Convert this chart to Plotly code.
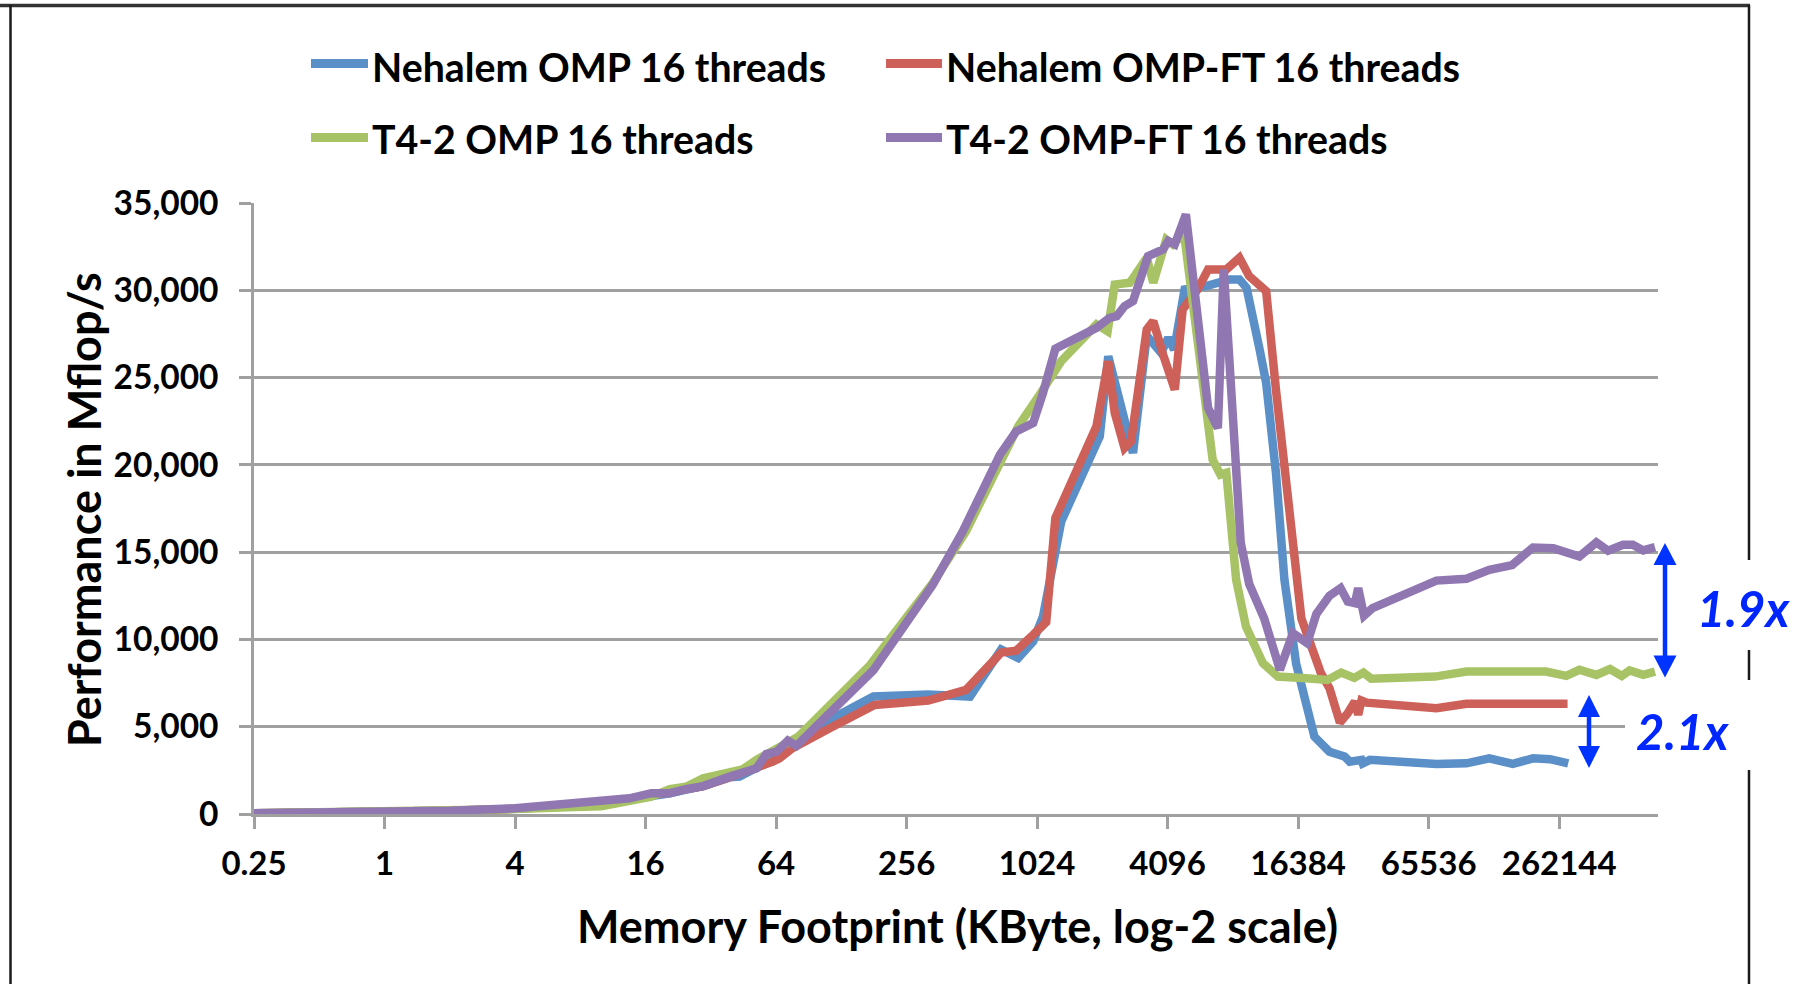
import plotly.graph_objects as go

# ---------------- data (memory footprint in KByte, performance in Mflop/s) ----------------
nehalem_omp_kb = [0.25, 0.5, 1, 2, 4, 7.5, 13.5, 17, 20.7, 24.6, 29.5, 39.1, 43.4, 52, 61.8, 66.3, 76.1,
                  109, 180, 322, 502, 699, 838, 982, 1090, 1323, 1992, 2180, 2836, 3281, 3822, 4124,
                  4390, 4905, 6165, 7912, 8780, 9476, 10885, 11665, 12943, 14163, 16044, 17560, 19473,
                  22849, 26800, 28330, 32094, 32540, 35115, 71170, 97900, 124800, 160100, 198600,
                  237800, 288600]
nehalem_omp = [40, 70, 120, 180, 300, 500, 850, 1000, 1190, 1400, 1600, 2100, 2140, 2650, 3100, 3250, 3800,
               5290, 6730, 6850, 6730, 9420, 8930, 9880, 11310, 16760, 21630, 26220, 20680, 27400, 26420, 27280,
               26600, 30050, 30240, 30620, 30620, 30140, 26600, 24700, 19540, 13420, 8600, 6540, 4430,
               3570, 3290, 3000, 3100, 2900, 3100, 2870, 2900, 3190, 2870, 3190,
               3140, 2900]

nehalem_ft_kb = [0.25, 0.5, 1, 2, 4, 7.5, 13.5, 17, 20.7, 24.6, 29.5, 39.1, 44.9, 52, 61.8, 66.3, 76.1,
                 113, 182, 322, 419, 481, 699, 820, 982, 1128, 1243, 1924, 2180, 2336, 2592, 2778, 3281,
                 3517, 3902, 4420, 4804, 5634, 6294, 7643, 8780, 9742, 11665, 12943, 16958, 19072, 20870,
                 22849, 25530, 27742, 29943, 31000, 32094, 33920, 71170, 97900, 286600]
nehalem_ft = [40, 70, 120, 180, 300, 500, 850, 1100, 1190, 1400, 1600, 2100, 2350, 2650, 3000, 3190, 3770,
              4910, 6250, 6500, 6920, 7110, 9250, 9360, 10260, 11000, 16950, 22210, 25940, 22980, 20970, 21350, 27750,
              28230, 26320, 24310, 28900, 30050, 31190, 31190, 31860, 30810, 29950, 24300, 11200, 9210, 8070,
              7210, 5240, 5770, 6440, 5680, 6500, 6380, 6060, 6310, 6310]

t42_omp_kb = [0.25, 0.5, 1, 2, 4, 7.5, 10, 13.5, 17, 20.7, 24.6, 29.5, 39.1, 44.9, 52, 60.1, 71.5, 81,
              174, 246, 338, 481, 690, 838, 1038, 1323, 1924, 2165, 2336, 2740, 3281, 3517, 4039, 4329,
              4871, 6382, 6607, 7181, 7643, 8480, 9410, 11268, 13215, 17797, 22368, 25887, 29735, 32768,
              35605, 70200, 97900, 160100, 228100, 282600, 324900, 389000, 449900, 509400, 553600,
              640300, 725300]
t42_omp = [40, 70, 120, 170, 280, 400, 450, 760, 990, 1420, 1560, 2050, 2420, 2560, 3100, 3570, 4050, 4430,
           8540, 10930, 13230, 16190, 20200, 22210, 23900, 25940, 28040, 27650, 30330, 30430, 31860, 30430, 32910, 32630,
           33300, 21350, 20300, 19440, 19540, 13420, 10740, 8640, 7870, 7780, 7680, 8100, 7800, 8100,
           7750, 7870, 8160, 8160, 8160, 7910, 8260, 7970, 8300, 7910, 8220,
           7970, 8160]

t42_ft_kb = [0.25, 0.5, 1, 2, 4, 7.5, 13.5, 17, 20.7, 24.6, 29.5, 39.1, 44.9, 52, 57.7, 64.4, 72.5, 79.3,
             180, 246, 338, 465, 690, 820, 982, 1090, 1243, 1924, 2210, 2385, 2592, 2836, 3327, 3902, 4124,
             4420, 4973, 6294, 6984, 7434, 8902, 9742, 11425, 13492, 15498, 18042, 19882, 22849, 25705,
             27742, 29943, 31000, 32996, 36100, 71170, 97900, 124800, 159000, 198600, 246200, 324900,
             389000, 440700, 516500, 573100, 640300, 725300]
t42_ft = [40, 70, 120, 180, 330, 600, 900, 1190, 1190, 1420, 1600, 2140, 2420, 2620, 3440, 3570, 4200, 3900,
          8240, 10650, 13130, 16190, 20590, 21920, 22400, 24120, 26650, 27850, 28420, 28520, 29090, 29380, 31960, 32340, 32820,
          32630, 34350, 23260, 22100, 31190, 15550, 13180, 11200, 8260, 10360, 9790, 11460, 12500, 12940,
          12170, 12080, 12940, 11360, 11790, 13370, 13480, 13990, 14260, 15270, 15230, 14750,
          15560, 15080, 15420, 15420, 15100, 15290]

series_names = ["Nehalem OMP 16 threads", "Nehalem OMP-FT 16 threads",
                "T4-2 OMP 16 threads", "T4-2 OMP-FT 16 threads"]
series_colors = ["#5A8FC8", "#CD6058", "#A8C366", "#9177B2"]

x_tick_vals = [0.25, 1, 4, 16, 64, 256, 1024, 4096, 16384, 65536, 262144]
x_tick_text = ["0.25", "1", "4", "16", "64", "256", "1024", "4096", "16384", "65536", "262144"]
y_tick_vals = [0, 5000, 10000, 15000, 20000, 25000, 30000, 35000]

ratio_labels = ["1.9x", "2.1x"]

# ---------------- layout geometry ----------------
W, H = 1807, 984
L, R, T, B = 254, 1658, 203, 814
FONT = "Lato"


def px(x):
    return (x - L) / (R - L)


def py(y):
    return (B - y) / (B - T)


fig = go.Figure()
xs = [nehalem_omp_kb, nehalem_ft_kb, t42_omp_kb, t42_ft_kb]
ys = [nehalem_omp, nehalem_ft, t42_omp, t42_ft]
for name, color, x, y in zip(series_names, series_colors, xs, ys):
    fig.add_trace(go.Scatter(x=x, y=y, mode="lines", name=name, showlegend=False,
                             line=dict(color=color, width=8.5)))

grid_col = "#A0A0A0"
fig.update_layout(
    width=W, height=H,
    margin=dict(l=L, r=W - R, t=T, b=H - B),
    paper_bgcolor="white", plot_bgcolor="white",
    font=dict(family=FONT, color="black"),
    xaxis=dict(type="log", range=[-0.60206, 5.8744], tickvals=x_tick_vals, ticktext=x_tick_text,
               showgrid=False, zeroline=False, showline=True, linecolor=grid_col, linewidth=2.5,
               ticks="outside", ticklen=12, tickwidth=2.5, tickcolor=grid_col,
               tickfont=dict(family=FONT, size=33, weight="bold", color="black"),
               ticklabelstandoff=7),
    yaxis=dict(range=[0, 35000], tickvals=y_tick_vals, tickformat=",d",
               showgrid=True, gridcolor=grid_col, gridwidth=2.5, zeroline=False,
               showline=True, linecolor=grid_col, linewidth=2.5,
               ticks="outside", ticklen=12, tickwidth=2.5, tickcolor=grid_col,
               tickfont=dict(family=FONT, size=33.5, weight="bold", color="black"),
               ticklabelstandoff=14),
)

shapes = []
# outer frame
frame_col = "#1a1a1a"
shapes.append(dict(type="line", xref="paper", yref="paper", x0=px(0), x1=px(1750), y0=py(5.5), y1=py(5.5),
                   line=dict(color="#333333", width=3.5)))
shapes.append(dict(type="line", xref="paper", yref="paper", x0=px(10.5), x1=px(10.5), y0=py(5), y1=py(990),
                   line=dict(color=frame_col, width=2.5)))
shapes.append(dict(type="line", xref="paper", yref="paper", x0=px(1749), x1=px(1749), y0=py(5), y1=py(990),
                   line=dict(color=frame_col, width=2.5)))

# legend symbols
leg_rows = [63.5, 137.5]
leg_text_rows = [66.5, 138.5]
leg_cols = [(311, 368), (886, 942)]
for i, (name, color) in enumerate(zip(series_names, series_colors)):
    r, c = divmod(i, 2)
    x0, x1 = leg_cols[c]
    shapes.append(dict(type="line", xref="paper", yref="paper", x0=px(x0), x1=px(x1),
                       y0=py(leg_rows[r]), y1=py(leg_rows[r]), line=dict(color=color, width=9)))

# white boxes behind the ratio labels
shapes.append(dict(type="rect", xref="paper", yref="paper", x0=px(1690), x1=px(1807), y0=py(560), y1=py(650),
                   line=dict(width=0), fillcolor="white", layer="above"))
shapes.append(dict(type="rect", xref="paper", yref="paper", x0=px(1625), x1=px(1762), y0=py(680), y1=py(770),
                   line=dict(width=0), fillcolor="white", layer="above"))

# double-headed arrows
arrow_col = "#0033FF"
for (ax, top, bot, hw, hh) in [(1665, 543, 677.5, 11.5, 22), (1589, 695, 768, 11, 22)]:
    shapes.append(dict(type="line", xref="paper", yref="paper", x0=px(ax), x1=px(ax),
                       y0=py(top + hh - 2), y1=py(bot - hh + 2), line=dict(color=arrow_col, width=4.5)))
    shapes.append(dict(type="path", xref="paper", yref="paper", fillcolor=arrow_col, line=dict(width=0),
                       path=f"M {px(ax)},{py(top)} L {px(ax - hw)},{py(top + hh)} L {px(ax + hw)},{py(top + hh)} Z"))
    shapes.append(dict(type="path", xref="paper", yref="paper", fillcolor=arrow_col, line=dict(width=0),
                       path=f"M {px(ax)},{py(bot)} L {px(ax - hw)},{py(bot - hh)} L {px(ax + hw)},{py(bot - hh)} Z"))

annotations = []
# legend texts
for i, name in enumerate(series_names):
    r, c = divmod(i, 2)
    annotations.append(dict(xref="paper", yref="paper", x=px(leg_cols[c][1] + 2), y=py(leg_text_rows[r]),
                            xanchor="left", yanchor="middle", showarrow=False, text=name,
                            font=dict(family=FONT, size=39.3, weight="bold", color="black")))
# axis titles
annotations.append(dict(xref="paper", yref="paper", x=px(957), y=py(926), xanchor="center", yanchor="middle",
                        showarrow=False, text="Memory Footprint (KByte, log-2 scale)",
                        font=dict(family=FONT, size=45, weight="bold", color="black")))
annotations.append(dict(xref="paper", yref="paper", x=px(84), y=py(510), xanchor="center", yanchor="middle",
                        showarrow=False, text="Performance in Mflop/s", textangle=-90,
                        font=dict(family=FONT, size=45, weight="bold", color="black")))
# ratio labels
for txt, (cx, cy) in zip(ratio_labels, [(1744, 608), (1683, 731)]):
    annotations.append(dict(xref="paper", yref="paper", x=px(cx), y=py(cy), xanchor="center", yanchor="middle",
                            showarrow=False, text=txt,
                            font=dict(family=FONT, size=49, weight="bold", style="italic", color="#0026FF")))

fig.update_layout(shapes=shapes, annotations=annotations)
fig.write_html("out.html")
